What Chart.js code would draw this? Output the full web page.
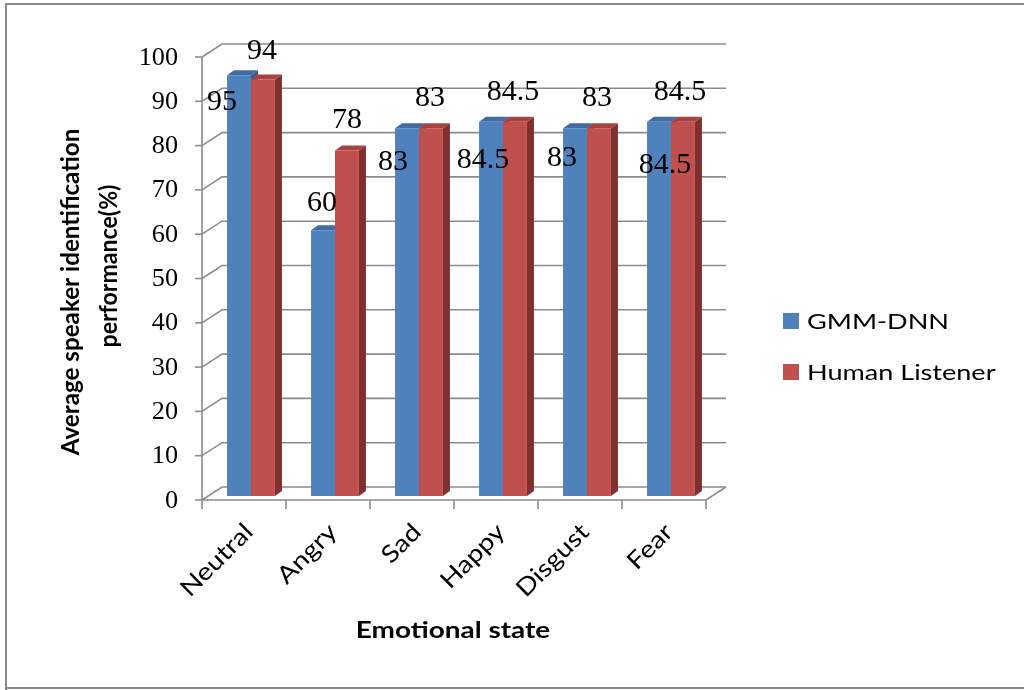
<!DOCTYPE html>
<html><head><meta charset="utf-8">
<script src="https://cdn.jsdelivr.net/npm/chart.js@4.4.0/dist/chart.umd.min.js"></script>
<style>html,body{margin:0;padding:0;background:#fff;overflow:hidden}canvas{position:absolute;left:0;top:0}</style>
</head><body>
<canvas id="c" width="1024" height="690"></canvas>
<script>
const categories = ['Neutral', 'Angry', 'Sad', 'Happy', 'Disgust', 'Fear'];
const gmmDnn = [95, 60, 83, 84.5, 83, 84.5];
const humanListener = [94, 78, 83, 84.5, 83, 84.5];
const seriesNames = ['GMM-DNN', 'Human Listener'];
const yTitleLines = ['Average speaker identification', 'performance(%)'];
const xTitle = 'Emotional state';

const frontColors = ['#4F81BD', '#C0504D'];
const topColors = ['#3E6CA3', '#A9423F'];
const sideColors = ['#385D8A', '#7F302E'];
const gridColor = '#8C8C8C';
const WALL = {dx: 20, dy: -13};
const BAR_SHIFT = {dx: 7, dy: -4};
const BAR_DEPTH = {dx: 7, dy: -5};
// label offsets (relative to bar top centre) per series, per category
const labelOffsets = [
  [[-17, 27], [-1, -27], [-14, 34], [-8, 38], [-13, 30], [6, 43]],
  [[-1, -28], [0, -30], [-1, -30], [-2, -30], [-2, -30], [-3, -30]]
];
const SERIF = '"Liberation Serif", "Times New Roman", serif';
const SANS = 'Lato, "Liberation Sans", sans-serif';

// draw text with optional rotation and stretch (sx along text, sy across)
function drawText(ctx, txt, x, y, opts) {
  ctx.save();
  ctx.translate(x, y);
  if (opts.rot) ctx.rotate(opts.rot);
  ctx.scale(opts.sx || 1, opts.sy || 1);
  ctx.font = opts.font;
  ctx.textAlign = opts.align || 'left';
  ctx.textBaseline = opts.baseline || 'middle';
  ctx.fillStyle = opts.color || '#000';
  ctx.fillText(txt, 0, 0);
  ctx.restore();
}

const threeD = {
  id: 'threeD',
  beforeDraw(chart) {
    const ctx = chart.ctx;
    ctx.save();
    ctx.fillStyle = '#fff';
    ctx.fillRect(0, 0, chart.width, chart.height);
    ctx.strokeStyle = '#8A8A8A';
    ctx.lineWidth = 2;
    ctx.beginPath();
    ctx.moveTo(6, 690); ctx.lineTo(6, 4); ctx.lineTo(1030, 4);
    ctx.moveTo(6, 688); ctx.lineTo(1030, 688);
    ctx.stroke();
    ctx.restore();
  },
  beforeDatasetsDraw(chart) {
    const ctx = chart.ctx;
    const xs = chart.scales.x, ys = chart.scales.y;
    const xL = xs.left, xR = xs.right;
    const y0 = ys.getPixelForValue(0);
    ctx.save();
    ctx.strokeStyle = gridColor;
    ctx.lineWidth = 1.6;
    ys.ticks.forEach(t => {
      const yy = ys.getPixelForValue(t.value);
      ctx.beginPath();
      ctx.moveTo(xL, yy);
      ctx.lineTo(xL + WALL.dx, yy + WALL.dy);
      ctx.lineTo(xR + WALL.dx, yy + WALL.dy);
      ctx.stroke();
      ctx.beginPath();
      ctx.moveTo(xL - 7, yy); ctx.lineTo(xL, yy); ctx.stroke();
    });
    ctx.beginPath();
    ctx.moveTo(xL, y0); ctx.lineTo(xR, y0); ctx.lineTo(xR + WALL.dx, y0 + WALL.dy);
    ctx.stroke();
    ctx.beginPath();
    ctx.moveTo(xL, ys.getPixelForValue(ys.max)); ctx.lineTo(xL, y0); ctx.stroke();
    const n = categories.length, step = (xR - xL) / n;
    for (let i = 0; i <= n; i++) {
      ctx.beginPath();
      ctx.moveTo(xL + i * step, y0); ctx.lineTo(xL + i * step, y0 + 9); ctx.stroke();
    }
    ctx.restore();

    // y tick labels
    ys.ticks.forEach(t => {
      drawText(ctx, String(t.value), xL - 24, ys.getPixelForValue(t.value) + 1,
        {font: '25px ' + SERIF, align: 'right', sx: 1.05});
    });
    // x category labels
    categories.forEach((c, i) => {
      const cx = xs.getPixelForValue(i);
      drawText(ctx, c, cx + 5, y0 + 28, {font: '24px ' + SANS, align: 'right', rot: -Math.PI / 4, sx: 1.16});
    });
    // axis titles
    drawText(ctx, xTitle, 453, 631, {font: 'bold 22px ' + SANS, align: 'center', sx: 1.27});
    drawText(ctx, yTitleLines[0], 71, 292, {font: 'bold 22px ' + SANS, align: 'center', rot: -Math.PI / 2, sx: 1.1, sy: 1.12});
    drawText(ctx, yTitleLines[1], 109, 266, {font: 'bold 22px ' + SANS, align: 'center', rot: -Math.PI / 2, sx: 1.05, sy: 1.12});
    // legend
    seriesNames.forEach((s, i) => {
      const ly = 321 + i * 51;
      ctx.fillStyle = frontColors[i];
      ctx.fillRect(783, ly - 8, 16, 16);
      drawText(ctx, s, 807, ly + 1, {font: '22px ' + SANS, sx: 1.23});
    });

    // 3D faces of bars (side + top), drawn shifted, before the fronts
    ctx.save();
    ctx.translate(BAR_SHIFT.dx, BAR_SHIFT.dy);
    chart.data.datasets.forEach((ds, di) => {
      chart.getDatasetMeta(di).data.forEach(bar => {
        const L = bar.x - bar.width / 2, R = bar.x + bar.width / 2;
        const T = bar.y, B = bar.base;
        ctx.fillStyle = sideColors[di];
        ctx.beginPath();
        ctx.moveTo(R, T); ctx.lineTo(R + BAR_DEPTH.dx, T + BAR_DEPTH.dy);
        ctx.lineTo(R + BAR_DEPTH.dx, B + BAR_DEPTH.dy); ctx.lineTo(R, B);
        ctx.closePath(); ctx.fill();
        ctx.fillStyle = topColors[di];
        ctx.beginPath();
        ctx.moveTo(L, T); ctx.lineTo(R, T);
        ctx.lineTo(R + BAR_DEPTH.dx, T + BAR_DEPTH.dy); ctx.lineTo(L + BAR_DEPTH.dx, T + BAR_DEPTH.dy);
        ctx.closePath(); ctx.fill();
      });
    });
  },
  afterDatasetsDraw(chart) {
    const ctx = chart.ctx;
    ctx.restore();
    chart.data.datasets.forEach((ds, di) => {
      chart.getDatasetMeta(di).data.forEach((bar, i) => {
        const off = labelOffsets[di][i];
        drawText(ctx, String(ds.data[i]), bar.x + BAR_SHIFT.dx + off[0], bar.y + BAR_SHIFT.dy + off[1],
          {font: '30px ' + SERIF, align: 'center'});
      });
    });
  }
};

new Chart(document.getElementById('c'), {
  type: 'bar',
  data: {
    labels: categories,
    datasets: [
      {label: seriesNames[0], data: gmmDnn, backgroundColor: frontColors[0], clip: false},
      {label: seriesNames[1], data: humanListener, backgroundColor: frontColors[1], clip: false}
    ]
  },
  options: {
    responsive: false,
    devicePixelRatio: 1,
    animation: false,
    events: [],
    layout: {padding: {left: 202, right: 318, top: 57, bottom: 190}},
    datasets: {bar: {barPercentage: 1, categoryPercentage: 0.57}},
    scales: {
      x: {display: false, offset: true},
      y: {display: false, min: 0, max: 100, ticks: {stepSize: 10}}
    },
    plugins: {legend: {display: false}, tooltip: {enabled: false}, title: {display: false}}
  },
  plugins: [threeD]
});
</script>
</body></html>
